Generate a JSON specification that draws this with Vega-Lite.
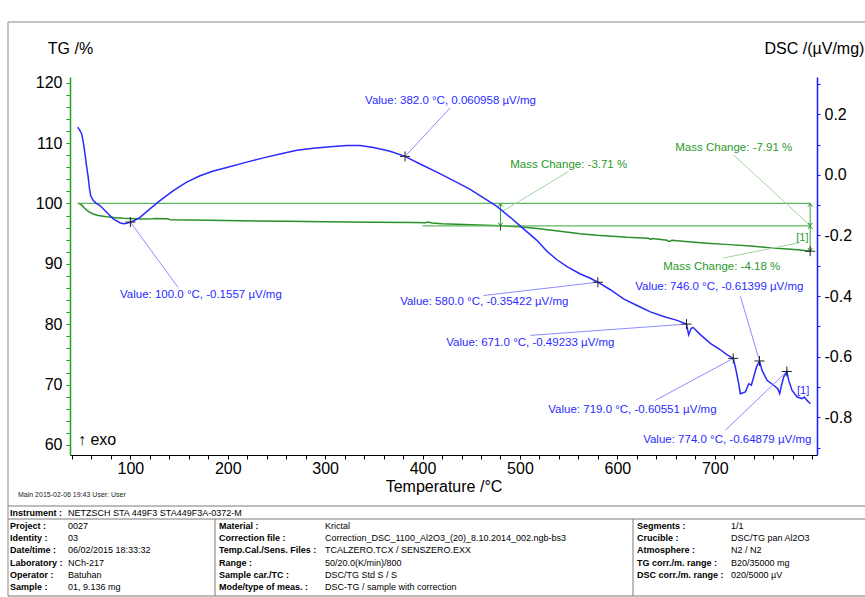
{
  "$schema": "https://vega.github.io/schema/vega-lite/v6.json",
  "width": 747,
  "height": 378,
  "autosize": {"type": "none"},
  "padding": {"left": 70, "top": 77, "right": 48, "bottom": 142},
  "background": "white",
  "config": {
    "font": "Liberation Sans",
    "view": {"stroke": null},
    "axis": {"labelFont": "Liberation Sans", "titleFont": "Liberation Sans", "labelColor": "#000", "titleColor": "#000", "grid": false, "labelOverlap": false, "labelFlush": false, "labelBound": false}
  },
  "datasets": {
    "dsc": [
      {"T":45.9,"v":0.157},{"T":47.5,"v":0.150},{"T":50.0,"v":0.135},{"T":51.8,"v":0.105},{"T":53.4,"v":0.069},{"T":55,"v":0.030},{"T":56.7,"v":-0.008},{"T":58,"v":-0.045},{"T":59.2,"v":-0.068},{"T":61.9,"v":-0.085},{"T":65,"v":-0.094},{"T":68.8,"v":-0.101},{"T":75.6,"v":-0.123},{"T":82.4,"v":-0.145},{"T":89.3,"v":-0.158},{"T":93,"v":-0.161},{"T":96.5,"v":-0.160},{"T":100,"v":-0.1557},{"T":103,"v":-0.152},{"T":109.9,"v":-0.140},{"T":120.1,"v":-0.112},{"T":130.4,"v":-0.085},{"T":144.1,"v":-0.052},{"T":157.8,"v":-0.024},{"T":171.5,"v":-0.003},{"T":185.2,"v":0.013},{"T":200,"v":0.025},{"T":219.5,"v":0.042},{"T":236.5,"v":0.056},{"T":253.7,"v":0.069},{"T":270.9,"v":0.081},{"T":287.9,"v":0.088},{"T":305.1,"v":0.093},{"T":322.2,"v":0.097},{"T":335.9,"v":0.097},{"T":349.6,"v":0.090},{"T":366.7,"v":0.078},{"T":382,"v":0.061},{"T":397.5,"v":0.036},{"T":414.7,"v":0.009},{"T":431.8,"v":-0.019},{"T":448.9,"v":-0.048},{"T":462.6,"v":-0.076},{"T":476.3,"v":-0.104},{"T":490,"v":-0.140},{"T":503.7,"v":-0.178},{"T":517.4,"v":-0.216},{"T":527.7,"v":-0.252},{"T":538,"v":-0.280},{"T":548.3,"v":-0.303},{"T":562,"v":-0.327},{"T":572.3,"v":-0.341},{"T":580,"v":-0.3542},{"T":592.8,"v":-0.379},{"T":606.4,"v":-0.409},{"T":620.2,"v":-0.431},{"T":633.9,"v":-0.452},{"T":647.5,"v":-0.467},{"T":661.3,"v":-0.480},{"T":671,"v":-0.4923},{"T":673.2,"v":-0.528},{"T":675.7,"v":-0.507},{"T":677.7,"v":-0.503},{"T":685.2,"v":-0.527},{"T":695.5,"v":-0.556},{"T":705.8,"v":-0.577},{"T":712,"v":-0.592},{"T":719,"v":-0.6055},{"T":721.2,"v":-0.634},{"T":724.6,"v":-0.689},{"T":726.3,"v":-0.722},{"T":731.5,"v":-0.716},{"T":734.9,"v":-0.689},{"T":737.6,"v":-0.694},{"T":740,"v":-0.667},{"T":742.8,"v":-0.634},{"T":746,"v":-0.614},{"T":748.6,"v":-0.645},{"T":753.7,"v":-0.678},{"T":760.5,"v":-0.694},{"T":764.6,"v":-0.705},{"T":766.7,"v":-0.722},{"T":768.1,"v":-0.700},{"T":770.8,"v":-0.667},{"T":774,"v":-0.6488},{"T":776,"v":-0.678},{"T":779.4,"v":-0.711},{"T":784.6,"v":-0.733},{"T":789.7,"v":-0.738},{"T":792.1,"v":-0.733},{"T":794.8,"v":-0.744},{"T":798.2,"v":-0.755}
    ],
    "tg": [
      {"T":45.9,"tg":100},{"T":48,"tg":99.95},{"T":50,"tg":99.75},{"T":52.5,"tg":99.3},{"T":55.1,"tg":98.9},{"T":58,"tg":98.55},{"T":61.9,"tg":98.26},{"T":67,"tg":98.0},{"T":75.6,"tg":97.8},{"T":85,"tg":97.65},{"T":92.7,"tg":97.55},{"T":110,"tg":97.43},{"T":123,"tg":97.45},{"T":125,"tg":97.52},{"T":138,"tg":97.45},{"T":141,"tg":97.3},{"T":180,"tg":97.2},{"T":213,"tg":97.12},{"T":260,"tg":97.05},{"T":300,"tg":96.98},{"T":350,"tg":96.9},{"T":390,"tg":96.85},{"T":403,"tg":96.82},{"T":405,"tg":96.92},{"T":410,"tg":96.75},{"T":420,"tg":96.62},{"T":450,"tg":96.48},{"T":480,"tg":96.29},{"T":500,"tg":96.16},{"T":520,"tg":95.8},{"T":541,"tg":95.4},{"T":562,"tg":95.0},{"T":579,"tg":94.75},{"T":595,"tg":94.58},{"T":610,"tg":94.4},{"T":632,"tg":94.22},{"T":634,"tg":94.05},{"T":636,"tg":94.18},{"T":651,"tg":93.92},{"T":652,"tg":93.72},{"T":654,"tg":93.72},{"T":656,"tg":93.9},{"T":670,"tg":93.68},{"T":692,"tg":93.41},{"T":715,"tg":93.18},{"T":737,"tg":92.96},{"T":760,"tg":92.6},{"T":775,"tg":92.45},{"T":788,"tg":92.3},{"T":798,"tg":92.09}
    ],
    "dn": [
      {"T":100,"v":-0.1557,"cT":148.9,"cv":-0.371,"lT":89.3,"lv":-0.3977,"label":"Value: 100.0 °C, -0.1557 µV/mg"},
      {"T":382,"v":0.060958,"cT":428.4,"cv":0.221,"lT":341.0,"lv":0.2448,"label":"Value: 382.0 °C, 0.060958 µV/mg"},
      {"T":580,"v":-0.35422,"cT":462.6,"cv":-0.398,"lT":377.0,"lv":-0.4204,"label":"Value: 580.0 °C, -0.35422 µV/mg"},
      {"T":671,"v":-0.49233,"cT":510.6,"cv":-0.5296,"lT":424.3,"lv":-0.5556,"label":"Value: 671.0 °C, -0.49233 µV/mg"},
      {"T":719,"v":-0.60551,"cT":638.9,"cv":-0.744,"lT":529.1,"lv":-0.7766,"label":"Value: 719.0 °C, -0.60551 µV/mg"},
      {"T":746,"v":-0.61399,"cT":726.3,"cv":-0.4007,"lT":618.3,"lv":-0.371,"label":"Value: 746.0 °C, -0.61399 µV/mg"},
      {"T":774,"v":-0.64879,"cT":710.9,"cv":-0.8425,"lT":626.5,"lv":-0.8754,"label":"Value: 774.0 °C, -0.64879 µV/mg"}
    ],
    "tgt": [
      {"T":490.0,"tg":106.37,"t":"Mass Change: -3.71 %"},
      {"T":659.5,"tg":109.19,"t":"Mass Change: -7.91 %"},
      {"T":647.1,"tg":89.49,"t":"Mass Change: -4.18 %"}
    ],
    "tgc": [
      {"T":481.5,"tg":98.64,"T2":549.6,"tg2":105.27},
      {"T":798.2,"tg":96.29,"T2":719.4,"tg2":108.03},
      {"T":786,"tg":93.46,"T2":708.9,"tg2":90.97}
    ],
    "tgh": [
      {"T":46,"T2":798,"tg":100},
      {"T":400,"T2":798,"tg":96.29}
    ],
    "tgv": [
      {"T":480,"tg":100,"tg2":96.29},
      {"T":798,"tg":100,"tg2":92.09}
    ],
    "tgk": [
      {"T":480,"tg":96.29,"tg2":95.5}
    ],
    "tga": [
      {"T":480,"tg":100,"dir":"up"},{"T":480,"tg":96.29,"dir":"down"},
      {"T":798,"tg":100,"dir":"up"},{"T":798,"tg":96.29,"dir":"down"},
      {"T":798,"tg":96.29,"dir":"up"},{"T":798,"tg":92.09,"dir":"down"}
    ],
    "tgend": [{"T":798,"tg":92.09}],
    "tglab": [{"T":790,"tg":94.24,"t":"[1]"}],
    "exo": [{"T":46.2,"tg":60.8,"t":"↑ exo"}],
    "dsclab": [{"T":790.8,"v":-0.713,"t":"[1]"}],
    "frame": [
      {"c":0,"c2":9,"r":0,"r2":0},
      {"c":0,"c2":0,"r":0,"r2":10}
    ],
    "hlines": [
      {"c":0,"c2":9,"r":1},
      {"c":0,"c2":9,"r":3},
      {"c":0,"c2":9,"r":10}
    ],
    "vlines": [
      {"c":3,"r":3,"r2":10},
      {"c":6,"r":3,"r2":10}
    ],
    "tlabels": [
      {"c":1,"r":2,"t":"Instrument :"},
      {"c":1,"r":4,"t":"Project :"},{"c":1,"r":5,"t":"Identity :"},{"c":1,"r":6,"t":"Date/time :"},{"c":1,"r":7,"t":"Laboratory :"},{"c":1,"r":8,"t":"Operator :"},{"c":1,"r":9,"t":"Sample :"},
      {"c":4,"r":4,"t":"Material :"},{"c":4,"r":5,"t":"Correction file :"},{"c":4,"r":6,"t":"Temp.Cal./Sens. Files :"},{"c":4,"r":7,"t":"Range :"},{"c":4,"r":8,"t":"Sample car./TC :"},{"c":4,"r":9,"t":"Mode/type of meas. :"},
      {"c":7,"r":4,"t":"Segments :"},{"c":7,"r":5,"t":"Crucible :"},{"c":7,"r":6,"t":"Atmosphere :"},{"c":7,"r":7,"t":"TG corr./m. range :"},{"c":7,"r":8,"t":"DSC corr./m. range :"}
    ],
    "tvalues": [
      {"c":2,"r":2,"t":"NETZSCH STA 449F3 STA449F3A-0372-M"},
      {"c":2,"r":4,"t":"0027"},{"c":2,"r":5,"t":"03"},{"c":2,"r":6,"t":"06/02/2015 18:33:32"},{"c":2,"r":7,"t":"NCh-217"},{"c":2,"r":8,"t":"Batuhan"},{"c":2,"r":9,"t":"01, 9.136 mg"},
      {"c":5,"r":4,"t":"Krictal"},{"c":5,"r":5,"t":"Correction_DSC_1100_Al2O3_(20)_8.10.2014_002.ngb-bs3"},{"c":5,"r":6,"t":"TCALZERO.TCX / SENSZERO.EXX"},{"c":5,"r":7,"t":"50/20.0(K/min)/800"},{"c":5,"r":8,"t":"DSC/TG Std S / S"},{"c":5,"r":9,"t":"DSC-TG / sample with correction"},
      {"c":8,"r":4,"t":"1/1"},{"c":8,"r":5,"t":"DSC/TG pan Al2O3"},{"c":8,"r":6,"t":"N2 / N2"},{"c":8,"r":7,"t":"B20/35000 mg"},{"c":8,"r":8,"t":"020/5000 µV"}
    ],
    "mainlab": [{"c":1.5,"r":0.5,"t":"Main   2015-02-06 19:43   User: User"}]
  },
  "layer": [
    {
      "layer": [
        {
          "layer": [
            {
              "data": {"name": "tg"},
              "mark": {"type": "line", "color": "#2a8f2a", "strokeWidth": 1.5},
              "encoding": {
                "x": {
                  "field": "T", "type": "quantitative",
                  "scale": {"domain": [38, 805], "nice": false, "zero": false},
                  "axis": {
                    "title": "Temperature /°C",
                    "values": [40,60,80,100,120,140,160,180,200,220,240,260,280,300,320,340,360,380,400,420,440,460,480,500,520,540,560,580,600,620,640,660,680,700,720,740,760,780,800],
                    "tickCount": 200,
                    "labelExpr": "(datum.value % 100 === 0 && datum.value < 800) ? ('' + datum.value) : ''",
                    "domainColor": "#000000",
                    "tickColor": "#000000",
                    "tickSize": 4,
                    "labelPadding": 1,
                    "labelFontSize": 16,
                    "labelFontWeight": "normal",
                    "titleFontSize": 16,
                    "titleFontWeight": "normal",
                    "titleY": 36,
                    "titleBaseline": "alphabetic"
                  }
                },
                "y": {
                  "field": "tg", "type": "quantitative",
                  "scale": {"domain": [58.34, 120.94], "nice": false, "zero": false},
                  "axis": {
                    "orient": "left",
                    "title": "TG /%",
                    "values": [60,62,64,66,68,70,72,74,76,78,80,82,84,86,88,90,92,94,96,98,100,102,104,106,108,110,112,114,116,118,120],
                    "tickCount": 200,
                    "labelExpr": "datum.value % 10 === 0 ? ('' + datum.value) : ''",
                    "domainColor": "#22a022",
                    "domainWidth": 1.5,
                    "tickColor": "#22a022",
                    "tickSize": 4,
                    "labelPadding": 4,
                    "labelFontSize": 16,
                    "titleFontSize": 16,
                    "titleFontWeight": "normal",
                    "titleAngle": 0,
                    "titleX": 0,
                    "titleY": -29,
                    "titleAlign": "center",
                    "titleBaseline": "middle"
                  }
                }
              }
            },
            {
              "data": {"name": "tgh"},
              "mark": {"type": "rule", "color": "#5cb85c", "strokeWidth": 1.2},
              "encoding": {
                "x": {"field": "T", "type": "quantitative", "scale": {"domain": [38, 805], "nice": false, "zero": false}},
                "x2": {"field": "T2"},
                "y": {"field": "tg", "type": "quantitative", "scale": {"domain": [58.34, 120.94], "nice": false, "zero": false}}
              }
            },
            {
              "data": {"name": "tgc"},
              "mark": {"type": "rule", "color": "#9fd49f", "strokeWidth": 1},
              "encoding": {
                "x": {"field": "T", "type": "quantitative", "scale": {"domain": [38, 805], "nice": false, "zero": false}},
                "x2": {"field": "T2"},
                "y": {"field": "tg", "type": "quantitative", "scale": {"domain": [58.34, 120.94], "nice": false, "zero": false}},
                "y2": {"field": "tg2"}
              }
            },
            {
              "data": {"name": "tgv"},
              "mark": {"type": "rule", "color": "#3aa53a", "strokeWidth": 1},
              "encoding": {
                "x": {"field": "T", "type": "quantitative", "scale": {"domain": [38, 805], "nice": false, "zero": false}},
                "y": {"field": "tg", "type": "quantitative", "scale": {"domain": [58.34, 120.94], "nice": false, "zero": false}},
                "y2": {"field": "tg2"}
              }
            },
            {
              "data": {"name": "tgk"},
              "mark": {"type": "rule", "color": "#444444", "strokeWidth": 1},
              "encoding": {
                "x": {"field": "T", "type": "quantitative", "scale": {"domain": [38, 805], "nice": false, "zero": false}},
                "y": {"field": "tg", "type": "quantitative", "scale": {"domain": [58.34, 120.94], "nice": false, "zero": false}},
                "y2": {"field": "tg2"}
              }
            },
            {
              "data": {"name": "tga"},
              "transform": [{"filter": "datum.dir === 'up'"}],
              "mark": {"type": "point", "shape": "M-0.7,1L0,0L0.7,1", "filled": false, "color": "#2a9a2a", "size": 40, "strokeWidth": 1, "opacity": 1},
              "encoding": {
                "x": {"field": "T", "type": "quantitative", "scale": {"domain": [38, 805], "nice": false, "zero": false}},
                "y": {"field": "tg", "type": "quantitative", "scale": {"domain": [58.34, 120.94], "nice": false, "zero": false}}
              }
            },
            {
              "data": {"name": "tga"},
              "transform": [{"filter": "datum.dir === 'down'"}],
              "mark": {"type": "point", "shape": "M-0.7,-1L0,0L0.7,-1", "filled": false, "color": "#2a9a2a", "size": 40, "strokeWidth": 1, "opacity": 1},
              "encoding": {
                "x": {"field": "T", "type": "quantitative", "scale": {"domain": [38, 805], "nice": false, "zero": false}},
                "y": {"field": "tg", "type": "quantitative", "scale": {"domain": [58.34, 120.94], "nice": false, "zero": false}}
              }
            },
            {
              "data": {"name": "tgend"},
              "mark": {"type": "point", "shape": "M-1,0L1,0M0,-1L0,1", "filled": false, "color": "#222222", "size": 100, "strokeWidth": 1, "opacity": 1},
              "encoding": {
                "x": {"field": "T", "type": "quantitative", "scale": {"domain": [38, 805], "nice": false, "zero": false}},
                "y": {"field": "tg", "type": "quantitative", "scale": {"domain": [58.34, 120.94], "nice": false, "zero": false}}
              }
            },
            {
              "data": {"name": "tgt"},
              "mark": {"type": "text", "align": "left", "baseline": "middle", "fontSize": 11.5, "color": "#2a9a2a", "font": "Liberation Sans"},
              "encoding": {
                "x": {"field": "T", "type": "quantitative", "scale": {"domain": [38, 805], "nice": false, "zero": false}},
                "y": {"field": "tg", "type": "quantitative", "scale": {"domain": [58.34, 120.94], "nice": false, "zero": false}},
                "text": {"field": "t"}
              }
            },
            {
              "data": {"name": "tglab"},
              "mark": {"type": "text", "align": "center", "baseline": "middle", "fontSize": 11, "color": "#2a9a2a", "font": "Liberation Sans"},
              "encoding": {
                "x": {"field": "T", "type": "quantitative", "scale": {"domain": [38, 805], "nice": false, "zero": false}},
                "y": {"field": "tg", "type": "quantitative", "scale": {"domain": [58.34, 120.94], "nice": false, "zero": false}},
                "text": {"field": "t"}
              }
            },
            {
              "data": {"name": "exo"},
              "mark": {"type": "text", "align": "left", "baseline": "middle", "fontSize": 16, "color": "#000000", "font": "Liberation Sans"},
              "encoding": {
                "x": {"field": "T", "type": "quantitative", "scale": {"domain": [38, 805], "nice": false, "zero": false}},
                "y": {"field": "tg", "type": "quantitative", "scale": {"domain": [58.34, 120.94], "nice": false, "zero": false}},
                "text": {"field": "t"}
              }
            }
          ]
        },
        {
          "layer": [
            {
              "data": {"name": "dsc"},
              "mark": {"type": "line", "color": "#2a2aff", "strokeWidth": 1.5},
              "encoding": {
                "x": {"field": "T", "type": "quantitative", "scale": {"domain": [38, 805], "nice": false, "zero": false}},
                "y": {
                  "field": "v", "type": "quantitative",
                  "scale": {"domain": [-0.9242, 0.3229], "nice": false, "zero": false},
                  "axis": {
                    "orient": "right",
                    "title": "DSC /(µV/mg)",
                    "values": [-0.9,-0.8,-0.7,-0.6,-0.5,-0.4,-0.3,-0.2,-0.1,0,0.1,0.2,0.3],
                    "tickCount": 200,
                    "labelExpr": "abs(round(datum.value*10)) % 2 === 0 ? replace(format(datum.value, '.1f'), '\u2212', '-') : ''",
                    "domainColor": "#1a1aff",
                    "domainWidth": 1.5,
                    "tickColor": "#1a1aff",
                    "tickSize": 3,
                    "labelPadding": 4,
                    "labelFontSize": 16,
                    "titleFontSize": 16,
                    "titleFontWeight": "normal",
                    "titleAngle": 0,
                    "titleX": -53,
                    "titleY": -29,
                    "titleAlign": "left",
                    "titleBaseline": "middle"
                  }
                }
              }
            },
            {
              "data": {"name": "dn"},
              "mark": {"type": "rule", "color": "#8c8cff", "strokeWidth": 1},
              "encoding": {
                "x": {"field": "T", "type": "quantitative", "scale": {"domain": [38, 805], "nice": false, "zero": false}},
                "x2": {"field": "cT"},
                "y": {"field": "v", "type": "quantitative", "scale": {"domain": [-0.9242, 0.3229], "nice": false, "zero": false}},
                "y2": {"field": "cv"}
              }
            },
            {
              "data": {"name": "dn"},
              "mark": {"type": "point", "shape": "M-1,0L1,0M0,-1L0,1", "filled": false, "color": "#222222", "size": 100, "strokeWidth": 1, "opacity": 1},
              "encoding": {
                "x": {"field": "T", "type": "quantitative", "scale": {"domain": [38, 805], "nice": false, "zero": false}},
                "y": {"field": "v", "type": "quantitative", "scale": {"domain": [-0.9242, 0.3229], "nice": false, "zero": false}}
              }
            },
            {
              "data": {"name": "dn"},
              "mark": {"type": "text", "align": "left", "baseline": "middle", "fontSize": 11.5, "color": "#2b2bff", "font": "Liberation Sans"},
              "encoding": {
                "x": {"field": "lT", "type": "quantitative", "scale": {"domain": [38, 805], "nice": false, "zero": false}},
                "y": {"field": "lv", "type": "quantitative", "scale": {"domain": [-0.9242, 0.3229], "nice": false, "zero": false}},
                "text": {"field": "label"}
              }
            },
            {
              "data": {"name": "dsclab"},
              "mark": {"type": "text", "align": "center", "baseline": "middle", "fontSize": 11, "color": "#2b2bff", "font": "Liberation Sans"},
              "encoding": {
                "x": {"field": "T", "type": "quantitative", "scale": {"domain": [38, 805], "nice": false, "zero": false}},
                "y": {"field": "v", "type": "quantitative", "scale": {"domain": [-0.9242, 0.3229], "nice": false, "zero": false}},
                "text": {"field": "t"}
              }
            }
          ]
        }
      ],
      "resolve": {"scale": {"y": "independent"}}
    },
    {
      "layer": [
        {
          "data": {"name": "frame"},
          "mark": {"type": "rule", "color": "#c4c4c4", "strokeWidth": 2},
          "encoding": {
            "x": {"field": "c", "type": "quantitative", "scale": {"domain": [0,1,1.5,2,3,4,5,6,7,8,9], "range": [-62,-60,-52,-2,145,149,255,563,567,661,795], "nice": false, "zero": false}, "axis": null},
            "x2": {"field": "c2"},
            "y": {"field": "r", "type": "quantitative", "scale": {"domain": [0,0.5,1,2,3,4,9,10,11], "range": [-55,418,429,435.5,442,449,510,519,527], "nice": false, "zero": false}, "axis": null},
            "y2": {"field": "r2"}
          }
        },
        {
          "data": {"name": "hlines"},
          "mark": {"type": "rule", "color": "#7a7a7a", "strokeWidth": 1},
          "encoding": {
            "x": {"field": "c", "type": "quantitative", "scale": {"domain": [0,1,1.5,2,3,4,5,6,7,8,9], "range": [-62,-60,-52,-2,145,149,255,563,567,661,795], "nice": false, "zero": false}, "axis": null},
            "x2": {"field": "c2"},
            "y": {"field": "r", "type": "quantitative", "scale": {"domain": [0,0.5,1,2,3,4,9,10,11], "range": [-55,418,429,435.5,442,449,510,519,527], "nice": false, "zero": false}, "axis": null}
          }
        },
        {
          "data": {"name": "vlines"},
          "mark": {"type": "rule", "color": "#7a7a7a", "strokeWidth": 1},
          "encoding": {
            "x": {"field": "c", "type": "quantitative", "scale": {"domain": [0,1,1.5,2,3,4,5,6,7,8,9], "range": [-62,-60,-52,-2,145,149,255,563,567,661,795], "nice": false, "zero": false}, "axis": null},
            "y": {"field": "r", "type": "quantitative", "scale": {"domain": [0,0.5,1,2,3,4,9,10,11], "range": [-55,418,429,435.5,442,449,510,519,527], "nice": false, "zero": false}, "axis": null},
            "y2": {"field": "r2"}
          }
        },
        {
          "data": {"name": "tlabels"},
          "mark": {"type": "text", "align": "left", "baseline": "middle", "fontSize": 9, "fontWeight": "bold", "color": "#000000", "font": "Liberation Sans"},
          "encoding": {
            "x": {"field": "c", "type": "quantitative", "scale": {"domain": [0,1,1.5,2,3,4,5,6,7,8,9], "range": [-62,-60,-52,-2,145,149,255,563,567,661,795], "nice": false, "zero": false}, "axis": null},
            "y": {"field": "r", "type": "quantitative", "scale": {"domain": [0,0.5,1,2,3,4,9,10,11], "range": [-55,418,429,435.5,442,449,510,519,527], "nice": false, "zero": false}, "axis": null},
            "text": {"field": "t"}
          }
        },
        {
          "data": {"name": "tvalues"},
          "mark": {"type": "text", "align": "left", "baseline": "middle", "fontSize": 9, "color": "#000000", "font": "Liberation Sans"},
          "encoding": {
            "x": {"field": "c", "type": "quantitative", "scale": {"domain": [0,1,1.5,2,3,4,5,6,7,8,9], "range": [-62,-60,-52,-2,145,149,255,563,567,661,795], "nice": false, "zero": false}, "axis": null},
            "y": {"field": "r", "type": "quantitative", "scale": {"domain": [0,0.5,1,2,3,4,9,10,11], "range": [-55,418,429,435.5,442,449,510,519,527], "nice": false, "zero": false}, "axis": null},
            "text": {"field": "t"}
          }
        },
        {
          "data": {"name": "mainlab"},
          "mark": {"type": "text", "align": "left", "baseline": "middle", "fontSize": 7, "color": "#222222", "font": "Liberation Sans"},
          "encoding": {
            "x": {"field": "c", "type": "quantitative", "scale": {"domain": [0,1,1.5,2,3,4,5,6,7,8,9], "range": [-62,-60,-52,-2,145,149,255,563,567,661,795], "nice": false, "zero": false}, "axis": null},
            "y": {"field": "r", "type": "quantitative", "scale": {"domain": [0,0.5,1,2,3,4,9,10,11], "range": [-55,418,429,435.5,442,449,510,519,527], "nice": false, "zero": false}, "axis": null},
            "text": {"field": "t"}
          }
        }
      ]
    }
  ],
  "resolve": {"scale": {"x": "independent", "y": "independent"}}
}
